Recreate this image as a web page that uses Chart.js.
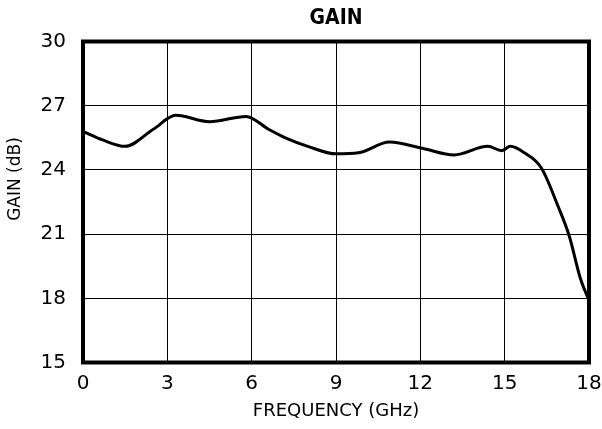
<!DOCTYPE html>
<html>
<head>
<meta charset="utf-8">
<script src="https://cdn.jsdelivr.net/npm/chart.js@4/dist/chart.umd.min.js"></script>
<style>
  html, body { margin: 0; padding: 0; background: #fff; }
  #wrap { width: 602px; height: 429px; }
</style>
</head>
<body>
<div id="wrap"><canvas id="gainChart"></canvas></div>
<script>
// frequency in GHz, gain in dB
const freq = [0, 0.7, 1.5, 2.5, 3.3, 4.5, 5.8, 6.6, 7.2, 8.0, 9.0, 9.8, 10.9, 12.1, 13.2, 14.4, 14.9, 15.2, 15.7, 16.3, 16.9, 17.3, 17.7, 18];
const gain = [25.8, 25.4, 25.1, 25.9, 26.55, 26.25, 26.5, 25.9, 25.5, 25.1, 24.75, 24.8, 25.3, 25.0, 24.7, 25.1, 24.9, 25.1, 24.8, 24.1, 22.3, 20.9, 18.9, 17.9];
const xTicks = [0, 3, 6, 9, 12, 15, 18];
const yTicks = [15, 18, 21, 24, 27, 30];

const chartTitle = "GAIN";
const yTitle = "GAIN (dB)";
const xTitle = "FREQUENCY (GHz)";

const points = freq.map((f, i) => ({ x: f, y: gain[i] }));

// thick frame round the plot, plus the title and the y title placed like the original
const frame = {
  id: "frame",
  afterDraw(chart) {
    const a = chart.chartArea;
    const ctx = chart.ctx;
    ctx.save();
    ctx.strokeStyle = "#000";
    ctx.lineWidth = 4;
    ctx.strokeRect(a.left, a.top, a.right - a.left, a.bottom - a.top);

    ctx.fillStyle = "#000";
    ctx.textAlign = "center";
    ctx.textBaseline = "middle";
    ctx.font = "bold 21px 'DejaVu Sans Condensed', 'Liberation Sans Narrow', sans-serif";
    ctx.fillText(chartTitle, (a.left + a.right) / 2, 19);

    ctx.translate(15.5, 179);
    ctx.rotate(-Math.PI / 2);
    ctx.font = "17px 'DejaVu Sans', sans-serif";
    ctx.fillText(yTitle, 0, 0);
    ctx.restore();
  }
};

const tickFont = { family: "'DejaVu Sans', sans-serif", size: 20 };

new Chart(document.getElementById("gainChart"), {
  type: "line",
  data: {
    datasets: [{
      data: points,
      borderColor: "#000",
      borderWidth: 3,
      pointRadius: 0,
      fill: false,
      cubicInterpolationMode: "monotone"
    }]
  },
  options: {
    responsive: true,
    maintainAspectRatio: false,
    animation: false,
    layout: { padding: { left: 0, right: 0, top: 41.5, bottom: 0 } },
    plugins: {
      legend: { display: false },
      tooltip: { enabled: false },
      title: { display: false }
    },
    scales: {
      x: {
        type: "linear",
        min: 0,
        max: 18,
        afterBuildTicks: (s) => { s.ticks = xTicks.map(v => ({ value: v })); },
        afterFit: (s) => { s.height = 66.5; s.paddingRight = 13; },
        ticks: { color: "#000", font: tickFont, padding: 9, maxRotation: 0 },
        grid: { color: "#000", lineWidth: 1, drawTicks: false },
        border: { display: false },
        title: {
          display: true,
          text: xTitle,
          color: "#000",
          font: { family: "'DejaVu Sans', sans-serif", size: 18 },
          padding: { top: 0, bottom: 7 }
        }
      },
      y: {
        min: 15,
        max: 30,
        afterBuildTicks: (s) => { s.ticks = yTicks.map(v => ({ value: v })); },
        afterFit: (s) => { s.width = 83; },
        ticks: { color: "#000", font: tickFont, padding: 17 },
        grid: { color: "#000", lineWidth: 1, drawTicks: false },
        border: { display: false }
      }
    }
  },
  plugins: [frame]
});
</script>
</body>
</html>
